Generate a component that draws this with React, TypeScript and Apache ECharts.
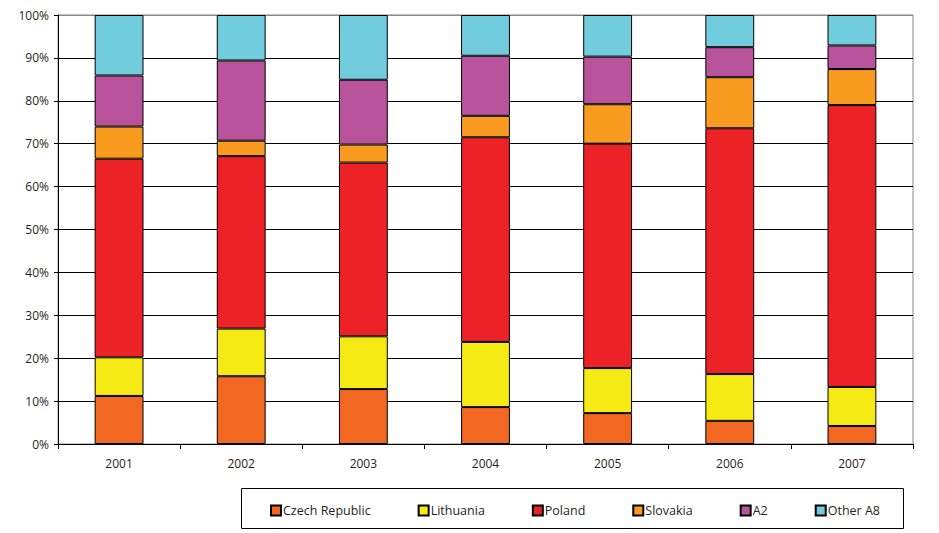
import React, { useEffect, useRef } from "react";
import * as echarts from "echarts";

const years = ["2001", "2002", "2003", "2004", "2005", "2006", "2007"];
const czech = [11.2, 15.8, 12.8, 8.6, 7.2, 5.4, 4.2];
const lithuania = [9.0, 11.1, 12.3, 15.2, 10.5, 10.9, 9.1];
const poland = [46.3, 40.2, 40.5, 47.7, 52.3, 57.3, 65.7];
const slovakia = [7.5, 3.6, 4.2, 5.0, 9.2, 11.9, 8.4];
const a2 = [11.9, 18.7, 15.1, 14.0, 11.1, 7.0, 5.5];
const otherA8 = [14.1, 10.6, 15.1, 9.5, 9.7, 7.5, 7.1];

const seriesNames = ["Czech Republic", "Lithuania", "Poland", "Slovakia", "A2", "Other A8"];
const seriesData = [czech, lithuania, poland, slovakia, a2, otherA8];
const seriesColors = ["#F26722", "#F5EA14", "#ED2227", "#F99B1F", "#B9539C", "#71CDDE"];

export default function App() {
  const ref = useRef<HTMLDivElement>(null);
  useEffect(() => {
    if (!ref.current) return;
    const chart = echarts.init(ref.current, null, { renderer: "svg" });
    const axisFont = { fontFamily: "'Open Sans', sans-serif", fontSize: 12, color: "#231f20" };
    const splitColors = Array.from({ length: 11 }, (_, i) => (i === 10 ? "#888888" : "#000000"));
    chart.setOption({
      animation: false,
      grid: {
        left: 58,
        right: 26,
        top: 15,
        bottom: 89,
        show: true,
        borderColor: "#888888",
        borderWidth: 1,
      },
      xAxis: {
        type: "category",
        data: years,
        axisLine: { show: true, lineStyle: { color: "#000", width: 1 } },
        axisTick: { show: true, length: 5, lineStyle: { color: "#000" } },
        axisLabel: { ...axisFont, margin: 13 },
      },
      yAxis: {
        type: "value",
        min: 0,
        max: 100,
        interval: 10,
        axisLine: { show: true, lineStyle: { color: "#000", width: 1 } },
        axisTick: { show: true, length: 4, lineStyle: { color: "#000" } },
        axisLabel: { ...axisFont, margin: 9, formatter: "{value}%" },
        splitLine: { show: true, lineStyle: { color: splitColors, width: 1 } },
      },
      legend: {
        left: 265,
        top: 499,
        itemWidth: 10,
        itemHeight: 10,
        itemGap: 47,
        icon: "rect",
        data: seriesNames,
        textStyle: {
          fontFamily: "'Open Sans', sans-serif",
          fontSize: 12.5,
          color: "#231f20",
          padding: [0, 0, 0, -3],
        },
      },
      graphic: [
        {
          type: "rect",
          shape: { x: 241.5, y: 488.5, width: 662, height: 40 },
          style: { fill: "none", stroke: "#000", lineWidth: 1 },
          silent: true,
        },
      ],
      series: seriesNames.map((name, i) => ({
        name,
        type: "bar",
        stack: "total",
        barWidth: "40%",
        data: seriesData[i],
        itemStyle: { color: seriesColors[i], borderColor: "#000", borderWidth: 1 },
      })),
    });
    return () => chart.dispose();
  }, []);
  return (
    <div
      ref={ref}
      style={{ position: "fixed", left: 0, top: 0, width: 939, height: 533, background: "#fff" }}
    />
  );
}
